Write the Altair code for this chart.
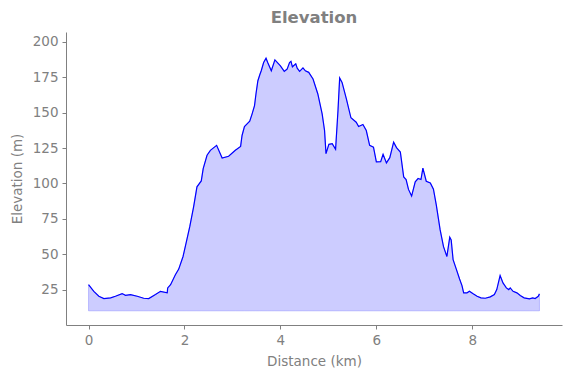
import altair as alt
import pandas as pd

distance_km = [0.00, 0.11, 0.215, 0.32, 0.46, 0.56, 0.70, 0.77, 0.875, 1.015,
               1.15, 1.255, 1.395, 1.50, 1.64, 1.65, 1.71, 1.81, 1.88, 1.97,
               2.04, 2.11, 2.19, 2.26, 2.35, 2.39, 2.47, 2.54, 2.67, 2.785,
               2.92, 3.06, 3.17, 3.20, 3.25, 3.36, 3.41, 3.46, 3.49, 3.53,
               3.57, 3.60, 3.65, 3.70, 3.735, 3.81, 3.885, 4.00, 4.08, 4.14,
               4.19, 4.22, 4.25, 4.32, 4.35, 4.40, 4.47, 4.52, 4.59, 4.68,
               4.78, 4.87, 4.92, 4.95, 5.01, 5.08, 5.15, 5.20, 5.235, 5.285,
               5.375, 5.47, 5.58, 5.63, 5.72, 5.79, 5.86, 5.94, 6.00, 6.09,
               6.14, 6.21, 6.28, 6.36, 6.42, 6.50, 6.57, 6.62, 6.67, 6.735,
               6.81, 6.87, 6.93, 6.97, 7.04, 7.125, 7.19, 7.25, 7.33, 7.40,
               7.47, 7.53, 7.56, 7.60, 7.67, 7.735, 7.785, 7.82, 7.89, 7.94,
               8.01, 8.10, 8.18, 8.27, 8.375, 8.46, 8.51, 8.58, 8.64, 8.71,
               8.76, 8.79, 8.85, 8.93, 9.00, 9.08, 9.19, 9.26, 9.31, 9.375,
               9.40]
elevation_m = [28.5, 23.8, 20.3, 18.7, 19.2, 20.3, 22.2, 21.0, 21.5, 20.3,
               18.9, 18.7, 21.5, 23.8, 22.7, 26.2, 28.5, 35.5, 39.5, 48.4,
               58.9, 69.5, 83.5, 97.6, 101.8, 110.5, 119.9, 123.4, 126.9, 118.0,
               119.2, 123.4, 126.2, 133.9, 140.2, 144.0, 149.2, 155.0, 163.2, 172.6,
               176.8, 179.6, 185.4, 188.5, 185.4, 179.6, 187.3, 183.1, 179.2, 180.8,
               185.4, 186.3, 182.4, 184.5, 181.4, 179.2, 181.7, 179.6, 178.5, 173.8,
               163.2, 149.2, 137.4, 121.1, 127.6, 128.1, 124.1, 151.5, 174.5, 171.4,
               159.7, 146.4, 143.3, 140.2, 141.6, 137.4, 126.9, 125.7, 115.2, 115.4,
               120.6, 114.5, 118.2, 129.2, 125.3, 122.2, 104.6, 102.8, 95.8, 91.1,
               101.1, 103.5, 102.8, 110.9, 101.6, 100.4, 96.0, 84.7, 67.2, 55.4,
               48.4, 62.0, 60.1, 46.1, 39.1, 32.5, 27.8, 22.7, 22.7, 23.8,
               22.2, 20.3, 19.2, 18.9, 19.9, 21.5, 25.0, 35.0, 29.7, 26.2,
               25.0, 26.2, 23.8, 22.7, 20.8, 19.2, 18.5, 19.2, 18.7, 20.3,
               22.0]
base_m = 10

df = pd.DataFrame({"d": distance_km, "e": elevation_m})
df["base"] = base_m

FONT = "DejaVu Sans"
GRAY = "#808080"

x = alt.X("d:Q", title="Distance (km)",
          scale=alt.Scale(domain=[-0.47, 9.87], nice=False, zero=False),
          axis=alt.Axis(values=[0, 2, 4, 6, 8], grid=False, labelFlush=False))
y = alt.Y("e:Q", title="Elevation (m)",
          scale=alt.Scale(domain=[0, 207], nice=False, zero=False),
          axis=alt.Axis(values=[25, 50, 75, 100, 125, 150, 175, 200], grid=False))

area = alt.Chart(df).mark_area(
    color="#0000ff", fillOpacity=0.2, stroke="#0000ff", strokeOpacity=0.2, strokeWidth=1
).encode(x=x, y=y, y2="base:Q")

line = alt.Chart(df).mark_line(color="#0000ff", strokeWidth=1.2).encode(x=x, y=y)

chart = alt.layer(area, line).properties(
    width=496, height=293,
    title=alt.TitleParams("Elevation", fontSize=16.5, fontWeight="bold", color=GRAY,
                          font=FONT, anchor="middle", offset=6),
    autosize=alt.AutoSizeParams(type="none"),
    padding={"left": 66, "top": 32, "right": 9, "bottom": 53},
).configure_view(stroke=None).configure_axis(
    domainColor=GRAY, tickColor=GRAY, labelColor=GRAY, titleColor=GRAY,
    labelFont=FONT, titleFont=FONT, labelFontSize=13.5, titleFontSize=13.5,
    titleFontWeight="normal", tickSize=4, labelPadding=4, domainWidth=1,
).configure_axisX(titlePadding=8).configure_axisY(titlePadding=8)

chart.save("out.html", embed_options={"renderer": "svg", "actions": False})
